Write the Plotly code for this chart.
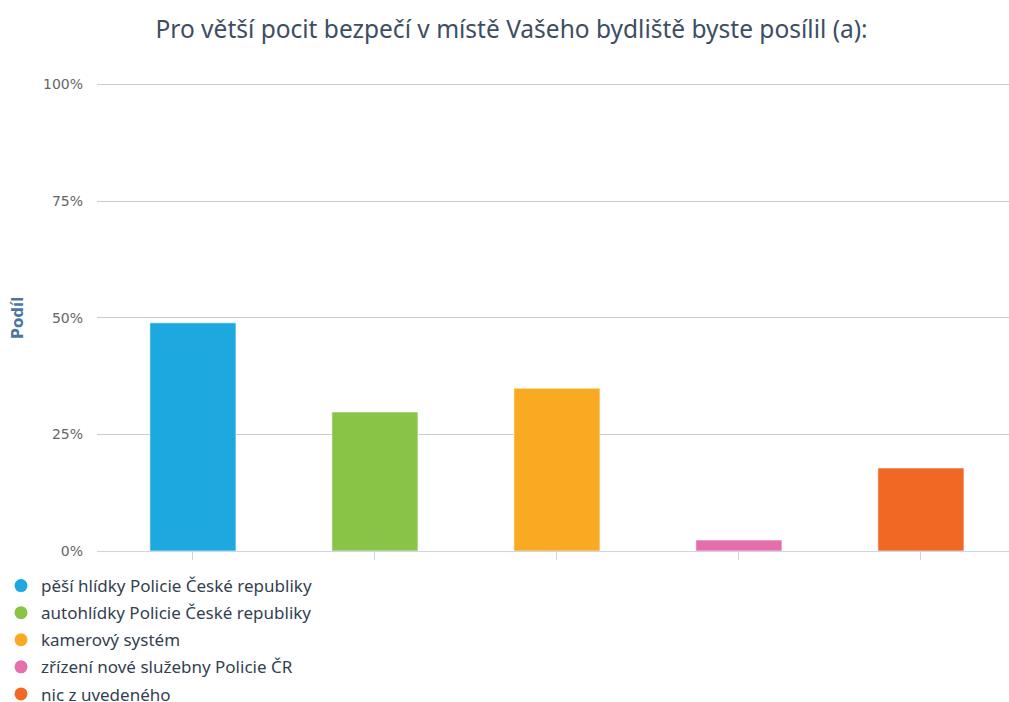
import plotly.graph_objects as go

categories = [
    "pěší hlídky Policie České republiky",
    "autohlídky Policie České republiky",
    "kamerový systém",
    "zřízení nové služebny Policie ČR",
    "nic z uvedeného",
]
values = [48.9, 29.8, 34.9, 2.35, 17.8]
colors = ["#1EA8E0", "#8AC446", "#FAA922", "#E56EAC", "#F06824"]
ytick_vals = [0, 25, 50, 75, 100]
ytick_text = ["0%", "25%", "50%", "75%", "100%"]

fig = go.Figure()
fig.add_trace(go.Bar(
    x=categories, y=values,
    marker=dict(color=colors, line=dict(color="rgba(255,255,255,0.6)", width=1)),
    width=0.473, showlegend=False, hoverinfo="skip",
))
for i, (c, col) in enumerate(zip(categories, colors)):
    fig.add_trace(go.Scatter(
        x=[None], y=[None], mode="markers", name=c,
        marker=dict(symbol="circle", size=13, color=col),
        legendgroup=f"g{i}", showlegend=True,
    ))

fig.update_layout(
    width=1009, height=702,
    paper_bgcolor="white", plot_bgcolor="white",
    margin=dict(l=97, r=0, t=83, b=151, autoexpand=False),
    title=dict(
        text="Pro větší pocit bezpečí v místě Vašeho bydliště byste posílil (a):",
        x=0.507, xanchor="center", y=1 - 29 / 702, yanchor="middle",
        font=dict(family="Noto Sans", size=24.5, color="#3D4E63"),
    ),
    xaxis=dict(
        type="category", range=[-0.527, 4.484],
        showticklabels=False, ticks="outside", ticklen=8, tickcolor="#CCD6EB",
        showline=True, linecolor="#CCD6EB", linewidth=1,
        showgrid=False, zeroline=False, fixedrange=True,
    ),
    yaxis=dict(
        range=[0, 100.3], tickvals=ytick_vals, ticktext=ytick_text,
        showgrid=True, gridcolor="#CCCCCC", gridwidth=1, zeroline=False,
        tickfont=dict(family="DejaVu Sans", size=14, color="#666666"),
        ticklabelstandoff=13, fixedrange=True,
    ),
    annotations=[dict(
        text="<b>Podíl</b>", textangle=-90,
        xref="paper", yref="paper",
        x=(18 - 97) / 912, y=(551 - 318) / 468,
        xanchor="center", yanchor="middle", showarrow=False,
        font=dict(family="DejaVu Sans", size=15, color="#4D759E"),
    )],
    legend=dict(
        xref="container", yref="container", x=1 / 1009, y=1 - 568 / 702,
        xanchor="left", yanchor="top", orientation="v",
        font=dict(family="Noto Sans", size=17, color="#333F50"),
        tracegroupgap=2, itemwidth=30, bgcolor="rgba(0,0,0,0)",
    ),
    bargap=0.5,
)
fig.write_html("out.html", config={"displayModeBar": False},
               post_script="document.body.style.margin='0';")
